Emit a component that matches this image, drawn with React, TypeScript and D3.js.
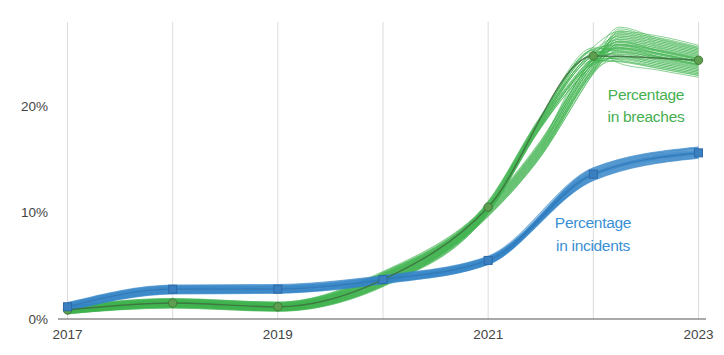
import React from "react";
import * as d3 from "d3";

const years = [2017, 2018, 2019, 2020, 2021, 2022, 2023];
const breachValues = [0.85, 1.5, 1.15, 3.7, 10.5, 24.7, 24.3];
const incidentValues = [1.15, 2.8, 2.8, 3.7, 5.5, 13.6, 15.6];

const xTickYears = [2017, 2019, 2021, 2023];
const yTickValues = [0, 10, 20];

// breach uncertainty band (two strands of sampled lines)
const breachKnots = [2017, 2018, 2019, 2020, 2021, 2021.5, 2022, 2022.25, 2022.6, 2023];
const breachALow = [0.45, 1.1, 0.75, 3.1, 9.9, 17.9, 23.9, 24.0, 23.4, 22.7];
const breachAHigh = [1.25, 1.95, 1.6, 4.4, 11.1, 19.1, 25.6, 27.0, 26.6, 25.7];
const breachBLow = [0.5, 1.0, 0.7, 3.0, 9.6, 15.2, 23.0, 24.2, 23.6, 22.9];
const breachBHigh = [1.2, 1.9, 1.6, 4.5, 10.8, 16.8, 24.6, 27.4, 26.4, 25.5];

// incident uncertainty band
const incidentLow = [0.75, 2.35, 2.4, 3.3, 5.1, 13.0, 15.1];
const incidentHigh = [1.55, 3.2, 3.25, 4.1, 5.9, 14.2, 16.15];

// where each drawn sample line sits inside the band (early / late part)
const fracEarly = [
  0.02, 0.06, 0.1, 0.14, 0.18, 0.22, 0.26, 0.3, 0.34, 0.38, 0.42, 0.46,
  0.5, 0.54, 0.58, 0.62, 0.66, 0.7, 0.74, 0.78, 0.82, 0.86, 0.92, 0.98,
];
const fracLate = [
  0.55, 0.2, 0.9, 0.35, 0.7, 0.05, 0.45, 0.8, 0.15, 0.6, 0.95, 0.3,
  0.5, 0.1, 0.75, 0.4, 0.65, 0.25, 0.85, 0.0, 0.48, 0.58, 0.38, 1.0,
];

const W = 724;
const H = 355;
const FONT = "'Liberation Sans', Arial, Helvetica, sans-serif";

export default function App() {
  const x = d3.scaleLinear().domain([2017, 2023]).range([67.5, 698.5]);
  const y = d3.scaleLinear().domain([0, 20]).range([319, 106]);
  const gridTop = 22;

  const line = d3
    .line<[number, number]>()
    .x((d) => x(d[0]))
    .y((d) => y(d[1]))
    .curve(d3.curveMonotoneX);

  const makeSamples = (knots: number[], lo: number[], hi: number[], splitYear: number) =>
    fracEarly.map((fe, i) => {
      const fl = fracLate[i];
      const pts: [number, number][] = knots.map((k, j) => {
        const f = k <= splitYear ? fe : fl;
        return [k, lo[j] + f * (hi[j] - lo[j])];
      });
      return line(pts) as string;
    });

  const breachA = makeSamples(breachKnots, breachALow, breachAHigh, 2022);
  const breachB = makeSamples(breachKnots, breachBLow, breachBHigh, 2022);
  const incSamples = makeSamples(years, incidentLow, incidentHigh, 2021);

  const breachPath = line(years.map((yr, i) => [yr, breachValues[i]] as [number, number])) as string;
  const incidentPath = line(years.map((yr, i) => [yr, incidentValues[i]] as [number, number])) as string;

  return (
    <div style={{ position: "absolute", left: 0, top: 0 }}>
      <svg width={W} height={H} style={{ display: "block", background: "#fff" }} fontFamily={FONT}>
        {years.map((yr) => (
          <line key={yr} x1={x(yr)} x2={x(yr)} y1={gridTop} y2={y(0)} stroke="#dcdcdc" strokeWidth={1} />
        ))}
        <line x1={58} x2={706} y1={y(0)} y2={y(0)} stroke="#555" strokeWidth={1} />
        {yTickValues.map((v) => (
          <text key={v} x={48} y={y(v)} dy="0.35em" textAnchor="end" fontSize={13.5} fill="#444">
            {v}%
          </text>
        ))}
        {xTickYears.map((yr) => (
          <text key={yr} x={x(yr)} y={339} textAnchor="middle" fontSize={13.5} fill="#444">
            {yr}
          </text>
        ))}

        {/* breach samples */}
        <g fill="none" stroke="#3db24d" strokeWidth={1} strokeOpacity={0.6}>
          {breachB.map((d, i) => (
            <path key={"b" + i} d={d} />
          ))}
          {breachA.map((d, i) => (
            <path key={"a" + i} d={d} />
          ))}
        </g>

        {/* incident samples */}
        <g fill="none" stroke="#3585c8" strokeWidth={1.2} strokeOpacity={0.65}>
          {incSamples.map((d, i) => (
            <path key={"i" + i} d={d} />
          ))}
        </g>

        {/* breach main line + markers */}
        <path d={breachPath} fill="none" stroke="#3d6e3e" strokeWidth={1.4} strokeOpacity={0.85} />
        {years.map((yr, i) => (
          <circle key={yr} cx={x(yr)} cy={y(breachValues[i])} r={4.2} fill="#5e9e4f" stroke="#3f7a3c" strokeWidth={1} />
        ))}

        {/* incident main line + markers */}
        <path d={incidentPath} fill="none" stroke="#2f6fae" strokeWidth={1.2} strokeOpacity={0.6} />
        {years.map((yr, i) => (
          <rect
            key={yr}
            x={x(yr) - 4}
            y={y(incidentValues[i]) - 4}
            width={8}
            height={8}
            fill="#3a7fc0"
            stroke="#2d6aa8"
            strokeWidth={1}
          />
        ))}

        {/* labels */}
        <g fontSize={15.5} fill="#46b04f" textAnchor="middle" letterSpacing={-0.3}>
          <text x={646} y={100}>Percentage</text>
          <text x={646} y={122}>in breaches</text>
        </g>
        <g fontSize={15.5} fill="#3a8fd4" textAnchor="middle" letterSpacing={-0.3}>
          <text x={593} y={228}>Percentage</text>
          <text x={593} y={251}>in incidents</text>
        </g>
      </svg>
    </div>
  );
}
